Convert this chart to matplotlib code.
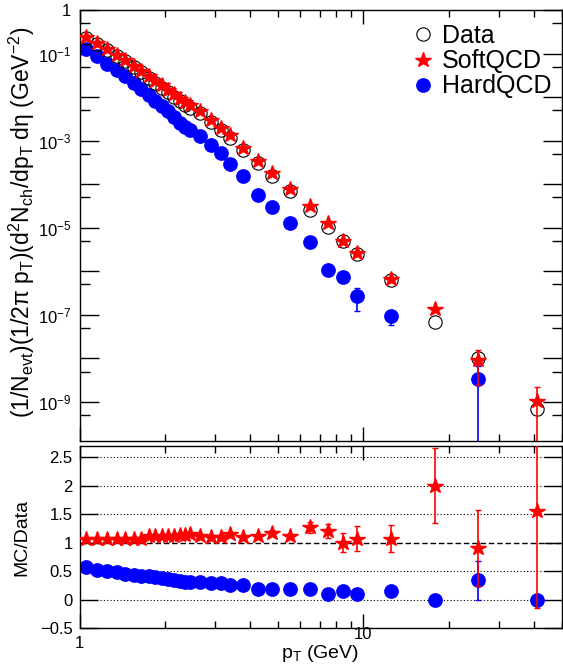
import numpy as np
import matplotlib
matplotlib.use('Agg')
import matplotlib.pyplot as plt
from matplotlib.lines import Line2D
from matplotlib.ticker import FixedLocator, NullFormatter

plt.rcParams['font.family'] = ['Liberation Sans', 'DejaVu Sans']
plt.rcParams['mathtext.fontset'] = 'custom'
plt.rcParams['mathtext.rm'] = 'Liberation Sans'
plt.rcParams['mathtext.it'] = 'Liberation Sans:italic'
plt.rcParams['mathtext.sf'] = 'Liberation Sans'

# pT bin centres (GeV)
pt = [1.05, 1.15, 1.25, 1.35, 1.45, 1.55, 1.65, 1.75, 1.85, 1.95, 2.05, 2.15,
      2.25, 2.35, 2.45, 2.65, 2.9, 3.15, 3.4, 3.75, 4.25, 4.75, 5.5, 6.5, 7.5,
      8.5, 9.5, 12.5, 17.8, 25.3, 40.9]

# invariant yields
data = [0.230, 0.166, 0.118, 0.0882, 0.0666, 0.0486, 0.0373, 0.0273, 0.0210,
        0.0165, 0.0132, 0.0103, 0.00805, 0.00663, 0.00576, 0.00434, 0.00273,
        0.00176, 0.00118, 6.12e-4, 3.05e-4, 1.58e-4, 6.89e-5, 2.52e-5, 1.06e-5,
        5.11e-6, 2.53e-6, 6.32e-7, 6.9e-8, 1.0e-8, 6.8e-10]
soft = [0.244, 0.178, 0.126, 0.0944, 0.0713, 0.0520, 0.0399, 0.0306, 0.0235,
        0.0185, 0.0146, 0.0115, 0.0091, 0.00756, 0.00662, 0.00482, 0.0030,
        0.00194, 0.00136, 6.73e-4, 3.39e-4, 1.85e-4, 7.72e-5, 3.20e-5, 1.27e-5,
        5.11e-6, 2.71e-6, 6.76e-7, 1.39e-7, 9.0e-9, 1.08e-9]
soft_err = [0] * 29 + [6.5e-9, 1.15e-9]
hard = [0.130, 0.0870, 0.0584, 0.0422, 0.0303, 0.0212, 0.0157, 0.01114,
        0.00819, 0.00625, 0.00477, 0.00348, 0.00258, 0.00205, 0.00178,
        0.001315, 7.94e-4, 5.12e-4, 2.95e-4, 1.53e-4, 5.67e-5, 3.03e-5, 1.28e-5,
        4.69e-6, 1.05e-6, 7.46e-7, 2.66e-7, 9.23e-8, 0, 3.38e-9, 0]
hard_err = [0] * 26 + [1.4e-7, 3.3e-8, 0, 3.4e-9, 0]

# MC / Data
ratio_soft = [1.06, 1.07, 1.07, 1.07, 1.07, 1.07, 1.07, 1.12, 1.12, 1.12, 1.11,
              1.12, 1.13, 1.14, 1.15, 1.11, 1.10, 1.10, 1.15, 1.10, 1.11, 1.17,
              1.12, 1.27, 1.20, 1.00, 1.07, 1.07, 2.00, 0.90, 1.56]
ratio_soft_err = [0] * 21 + [0.05, 0.03, 0.10, 0.12, 0.17, 0.22, 0.24, 0.66,
                             0.67, 1.7]
ratio_hard = [0.565, 0.524, 0.495, 0.478, 0.455, 0.437, 0.420, 0.408, 0.390,
              0.379, 0.361, 0.338, 0.320, 0.309, 0.309, 0.303, 0.291, 0.291,
              0.250, 0.250, 0.186, 0.192, 0.186, 0.186, 0.099, 0.146, 0.105,
              0.146, 0.0, 0.338, 0.0]
ratio_hard_err = [0] * 29 + [0.34, 0]

pt = np.array(pt)
hard = np.array(hard, dtype=float)
hard_top = np.where(hard > 0, hard, np.nan)

fig = plt.figure(figsize=(5.63, 6.69), dpi=100)
ax1 = fig.add_axes([79.5 / 563, 1 - 441 / 669, 482.5 / 563, 431 / 669])
ax2 = fig.add_axes([79.5 / 563, 1 - 628 / 669, 482.5 / 563, 182 / 669])

ms_dot = 9.6
ms_star = 11.5
blue = '#0000ff'
red = '#ff0000'

# spectra
ax1.errorbar(pt, hard_top, yerr=hard_err, fmt='o', color=blue, ms=ms_dot,
             mec=blue, elinewidth=1.2, capsize=2, zorder=2)
ax1.plot(pt, data, 'o', mfc='none', mec='black', mew=0.8, ms=ms_dot, zorder=3)
ax1.errorbar(pt, soft, yerr=soft_err, fmt='*', color=red, ms=ms_star,
             mec=red, elinewidth=1.2, capsize=2, zorder=4)

ax1.set_xscale('log')
ax1.set_yscale('log')
ax1.set_xlim(1, 50)
ax1.set_ylim(10 ** -9.894, 1)

# ratios
for yv in [0, 0.5, 1.5, 2, 2.5]:
    ax2.axhline(yv, color='black', lw=0.8, ls=(0, (1, 2)), zorder=1)
ax2.axhline(1, color='black', lw=1.0, ls=(0, (4, 2)), zorder=1)
ax2.errorbar(pt, ratio_hard, yerr=ratio_hard_err, fmt='o', color=blue,
             ms=ms_dot, mec=blue, elinewidth=1.2, capsize=2, zorder=2)
ax2.errorbar(pt, ratio_soft, yerr=ratio_soft_err, fmt='*', color=red,
             ms=ms_star, mec=red, elinewidth=1.2, capsize=2, zorder=3)
ax2.set_xscale('log')
ax2.set_xlim(1, 50)
ax2.set_ylim(-0.5, 2.7)

xminor = [2, 3, 4, 5, 6, 7, 8, 9, 20, 30, 40, 50]
for ax in (ax1, ax2):
    ax.xaxis.set_major_locator(FixedLocator([1, 10]))
    ax.xaxis.set_minor_locator(FixedLocator(xminor))
    ax.xaxis.set_major_formatter(NullFormatter())
    ax.xaxis.set_minor_formatter(NullFormatter())
    ax.tick_params(which='both', direction='in', top=True, right=True,
                   width=1.0, labelsize=12)
    ax.tick_params(axis='x', which='major', length=10)
    ax.tick_params(axis='x', which='minor', length=5)
    for s in ax.spines.values():
        s.set_linewidth(1.0)

ydec = [10.0 ** -k for k in range(0, 10)]
ax1.yaxis.set_major_locator(FixedLocator(ydec))
ax1.yaxis.set_minor_locator(FixedLocator([5 * 10.0 ** -k for k in range(1, 11)]))
ax1.yaxis.set_minor_formatter(NullFormatter())
ylab = []
for k in range(0, 10):
    if k == 0:
        ylab.append('1')
    elif k % 2 == 1:
        ylab.append(r'$\mathregular{10^{-%d}}$' % k)
    else:
        ylab.append('')
ax1.set_yticklabels(ylab)
ax1.tick_params(axis='y', which='major', length=14, pad=6)
ax1.tick_params(axis='y', which='minor', length=7)

ax2.set_yticks([-0.5, 0, 0.5, 1, 1.5, 2, 2.5])
ax2.set_yticklabels(['\u22120.5', '0', '0.5', '1', '1.5', '2', '2.5'])
ax2.yaxis.set_minor_locator(FixedLocator([]))
ax2.tick_params(axis='y', which='major', length=13, pad=5)

# x tick labels in ROOT placement
ax2.text(1, -0.77, '1', ha='center', va='center', fontsize=12)
ax2.text(10, -0.62, '10', ha='center', va='center', fontsize=12)

fig.text(320 / 563, 1 - 654 / 669, r'$\mathregular{p_{T}\ (GeV)}$',
         ha='center', va='center', fontsize=14)
fig.text(22 / 563, 1 - 222 / 669,
         r'$\mathregular{(1/N_{evt})(1/2π\ p_{T})(d^{2}N_{ch}/dp_{T}\ dη\ (GeV^{-2})}$',
         rotation=90, ha='center', va='center', fontsize=16.5)
fig.text(22 / 563, 1 - 537 / 669, 'MC/Data', rotation=90, ha='center',
         va='center', fontsize=14)

handles = [
    Line2D([], [], ls='none', marker='o', mfc='none', mec='black', mew=0.8, ms=ms_dot),
    Line2D([], [], ls='none', marker='*', color=red, ms=ms_star),
    Line2D([], [], ls='none', marker='o', color=blue, ms=ms_dot),
]
fig.legend(handles, ['Data', 'SoftQCD', 'HardQCD'], loc='upper left',
           bbox_to_anchor=(412 / 563, 1 - 24 / 669), frameon=False,
           fontsize=18, handlelength=0.9, handletextpad=0.3,
           labelspacing=0.05, borderpad=0, borderaxespad=0)

fig.savefig('out.png', dpi=100)
